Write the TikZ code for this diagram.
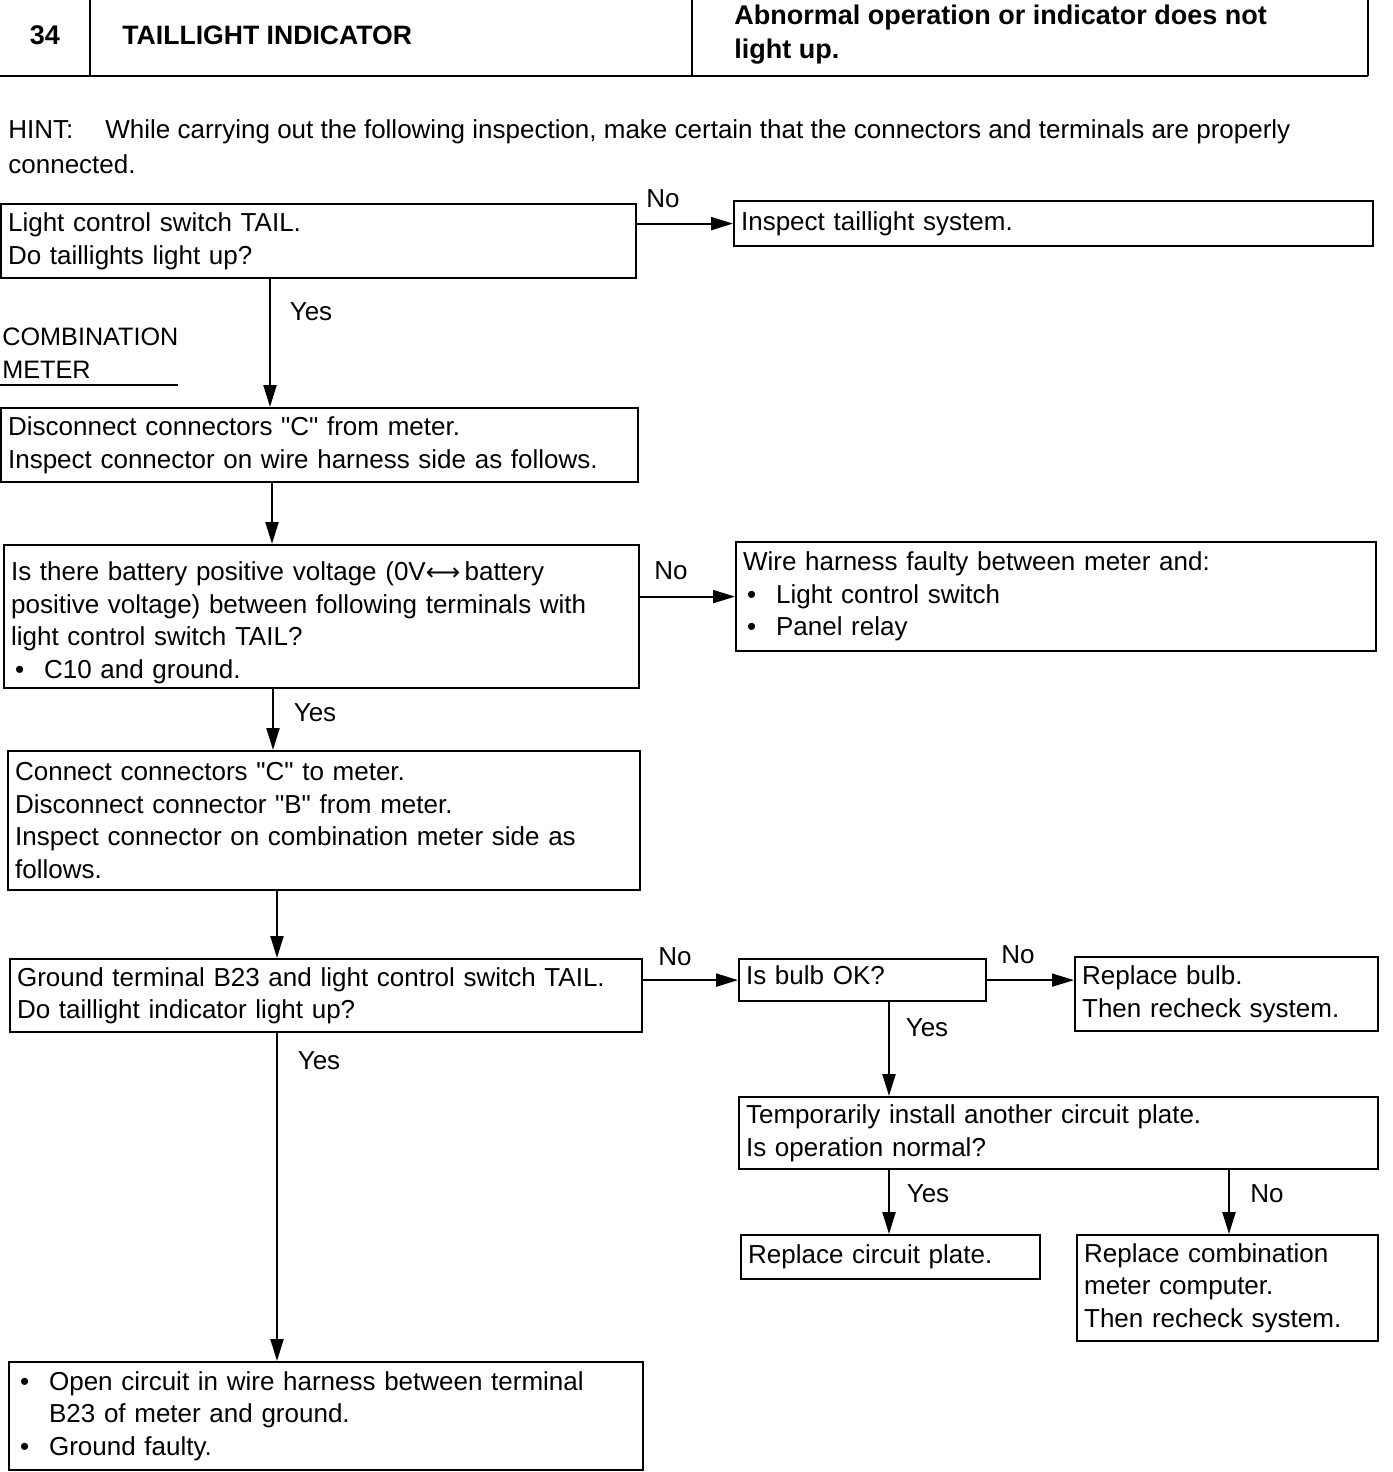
\documentclass[tikz,border=0pt]{standalone}
\usepackage{fontspec}
\setmainfont{Liberation Sans}
\newfontfamily\dejavu{DejaVu Sans}
\newfontfamily\qf{Liberation Sans}[Ligatures=TeXOff]
\usetikzlibrary{arrows.meta}
\newcommand\bul{\makebox[16.5pt][l]{\hspace{2pt}\textbullet}}
\newcommand\dq{{\qf\symbol{34}}}
\begin{document}
\begin{tikzpicture}[x=0.5pt,y=-0.5pt,
  box/.style={draw,line width=1.1pt,anchor=north west,align=left,inner xsep=3.5pt,inner ysep=2pt,font=\fontsize{13}{16.2}\selectfont},
  arr/.style={line width=1.1pt,-{Triangle[length=11pt,width=6.5pt]}},
  lbl/.style={anchor=base,inner sep=0pt,font=\fontsize{13}{16}\selectfont},
  hdr/.style={line width=1.4pt},
  plain/.style={inner sep=0pt,align=left,anchor=north west}]
\useasboundingbox (0,0) rectangle (1392,1472);

% header
\draw[hdr] (0,76) -- (1368,76);
\draw[hdr] (90,0) -- (90,76);
\draw[hdr] (692,0) -- (692,76);
\draw[hdr] (1368,0) -- (1368,76);
\node[inner sep=0pt,anchor=base,font=\fontsize{13.5}{17}\selectfont\bfseries] (num) at (45,44.5) {34};
\node[inner sep=0pt,anchor=base west,font=\fontsize{13.3}{17}\selectfont\bfseries] (title) at (122,44) {TAILLIGHT INDICATOR};
\node[plain,font=\fontsize{13.5}{17}\selectfont\bfseries] (cond) at (734,4.5) {Abnormal operation or indicator does not\\light up.};

% hint
\node[plain,font=\fontsize{13}{17.5}\selectfont] (hint) at (8,119) {\makebox[48.5pt][l]{HINT:}While carrying out the following inspection, make certain that the connectors and terminals are properly\\connected.};

\node[plain,font=\fontsize{12.6}{16.5}\selectfont] (cm) at (2,327) {COMBINATION\\METER};
\draw[line width=0.8pt] (0,385) -- (178,385);

% boxes
\node[box,text width=310.5pt,minimum height=37pt] (b1) at (0,203) {Light control switch TAIL.\\Do taillights light up?};
\node[box,text width=312.5pt,minimum height=22.5pt] (b2) at (733,200) {Inspect taillight system.};
\node[box,text width=311.5pt,minimum height=37pt] (b3) at (0,407) {Disconnect connectors \dq C\dq{} from meter.\\Inspect connector on wire harness side as follows.};
\node[box,text width=310.5pt,minimum height=71.5pt] (b4) at (3,544) {\rule{0pt}{15.5pt}Is there battery positive voltage (0V{\dejavu\fontsize{12}{16}\selectfont ⟷}\,battery\\positive voltage) between following terminals with\\light control switch TAIL?\\\bul C10 and ground.};
\node[box,text width=313pt,minimum height=54.5pt] (b5) at (735,541) {Wire harness faulty between meter and:\\\bul Light control switch\\\bul Panel relay};
\node[box,text width=309pt,minimum height=69.5pt] (b6) at (7,750) {Connect connectors \dq C\dq{} to meter.\\Disconnect connector \dq B\dq{} from meter.\\Inspect connector on combination meter side as\\follows.};
\node[box,text width=309pt,minimum height=36.5pt] (b7) at (9,958) {Ground terminal B23 and light control switch TAIL.\\Do taillight indicator light up?};
\node[box,text width=116.5pt,minimum height=21pt] (b8) at (738,958) {\raisebox{2.5pt}[\height][\depth]{Is bulb OK?}};
\node[box,text width=144.5pt,minimum height=37pt] (b9) at (1074,956) {Replace bulb.\\Then recheck system.};
\node[box,text width=312.5pt,minimum height=36pt] (b10) at (738,1096) {Temporarily install another circuit plate.\\Is operation normal?};
\node[box,text width=142.5pt,minimum height=22pt] (b11) at (740,1234) {Replace circuit plate.};
\node[box,text width=143.5pt,minimum height=53pt] (b12) at (1076,1234) {Replace combination\\meter computer.\\Then recheck system.};
\node[box,text width=310pt,minimum height=54pt] (b13) at (8,1361) {\bul Open circuit in wire harness between terminal\\\hspace{16.5pt}B23 of meter and ground.\\\bul Ground faulty.};

% connectors
\draw[arr] (b2.west -| b1.east) -- (b2.west);
\draw[arr] ([xshift=135pt]b1.south west) -- ([xshift=135pt]b1.south west |- b3.north);
\draw[arr] ([xshift=136pt]b3.south west) -- ([xshift=136pt]b3.south west |- b4.north);
\draw[arr] (b5.west -| b4.east) -- (b5.west);
\draw[arr] ([xshift=135pt]b4.south west) -- ([xshift=135pt]b4.south west |- b6.north);
\draw[arr] ([xshift=135pt]b6.south west) -- ([xshift=135pt]b6.south west |- b7.north);
\draw[arr] (b8.west -| b7.east) -- (b8.west);
\draw[arr,line width=0.8pt] (b8.east) -- (b8.east -| b9.west);
\draw[arr] ([xshift=75.5pt]b8.south west) -- ([xshift=75.5pt]b8.south west |- b10.north);
\draw[arr] ([xshift=75.5pt]b10.south west) -- ([xshift=75.5pt]b10.south west |- b11.north);
\draw[arr] ([xshift=245.5pt]b10.south west) -- ([xshift=245.5pt]b10.south west |- b12.north);
\draw[arr] ([xshift=134pt]b7.south west) -- ([xshift=134pt]b7.south west |- b13.north);

% labels
\node[lbl] (l1) at (663,207) {No};
\node[lbl] (l2) at (311,320) {Yes};
\node[lbl] (l3) at (671,579) {No};
\node[lbl] (l4) at (315,721) {Yes};
\node[lbl] (l5) at (675,965) {No};
\node[lbl] (l6) at (1018,963) {No};
\node[lbl] (l7) at (927,1036) {Yes};
\node[lbl] (l8) at (928,1202) {Yes};
\node[lbl] (l9) at (1267,1202) {No};
\node[lbl] (l10) at (319,1069) {Yes};
\end{tikzpicture}
\end{document}
